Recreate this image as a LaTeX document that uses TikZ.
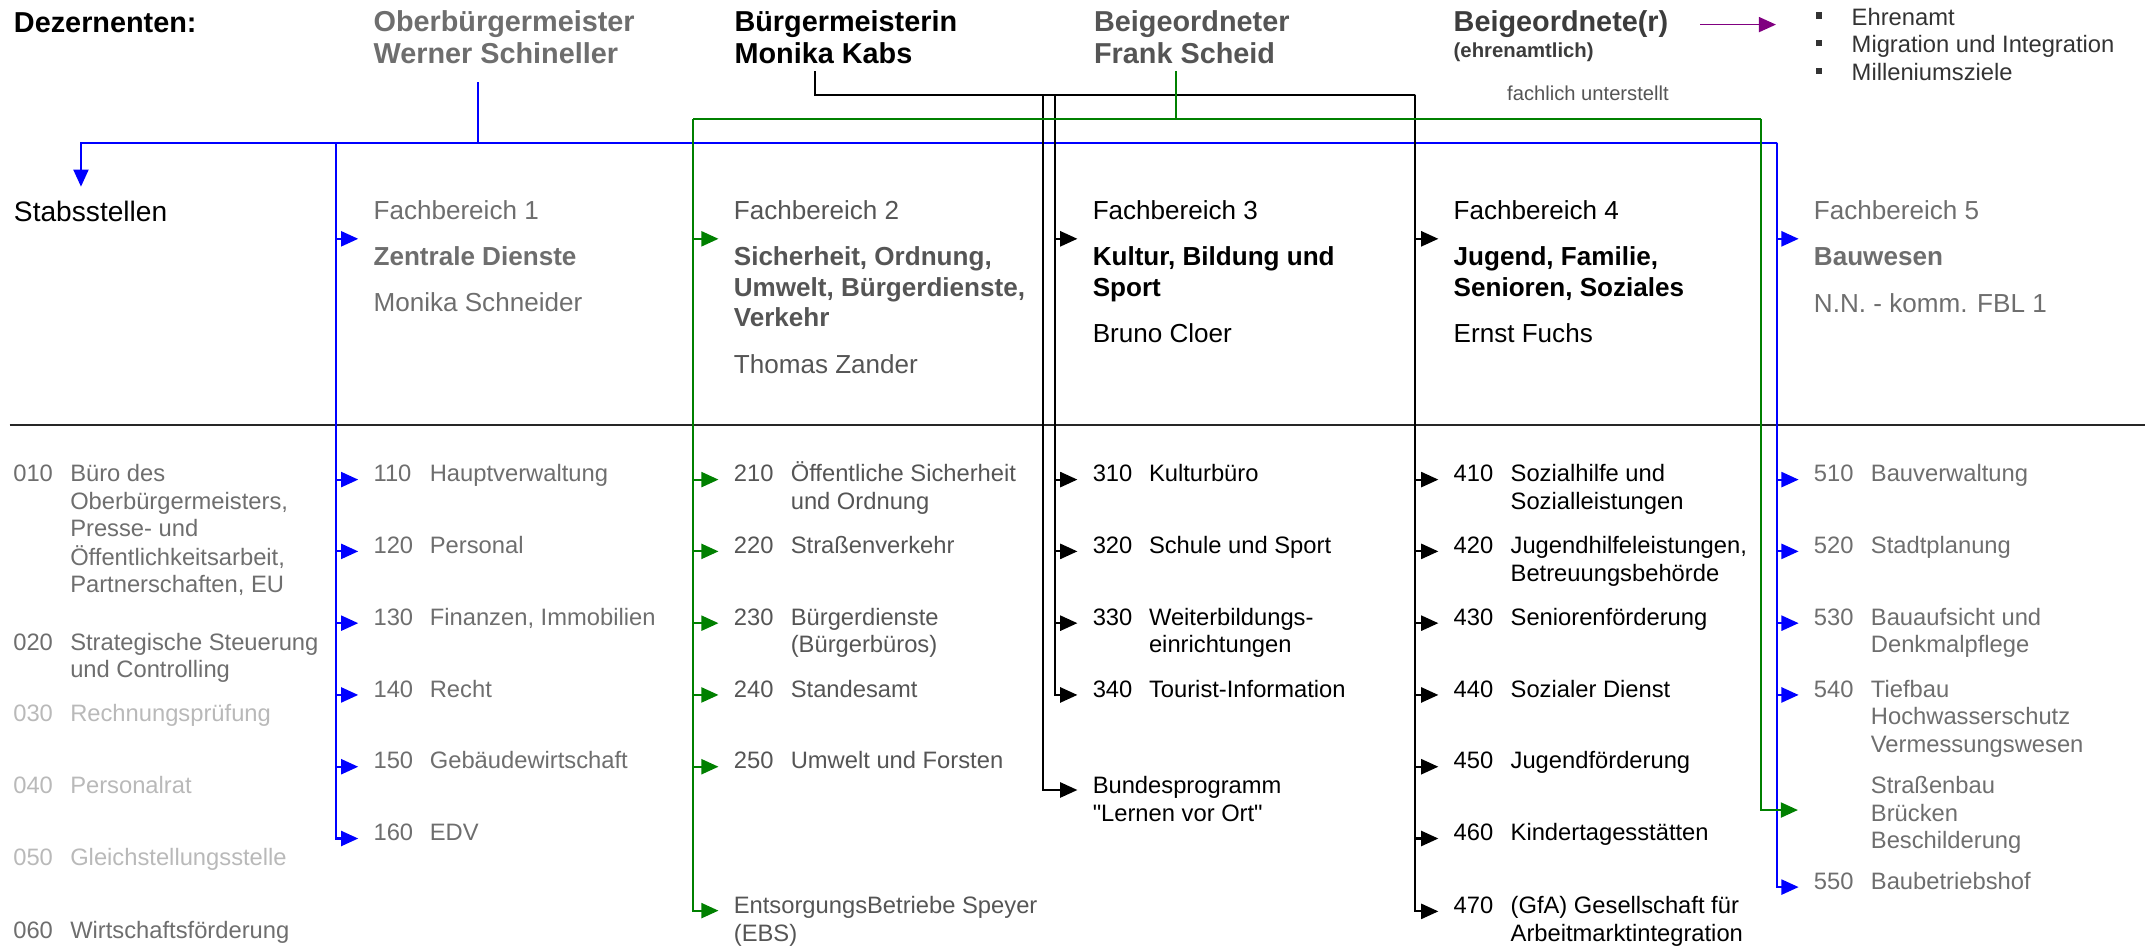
\documentclass[tikz,border=0pt]{standalone}
\usepackage{fontspec}
\setmainfont{Liberation Sans}[Ligatures = TeXOff]
\usetikzlibrary{arrows.meta}

\definecolor{grauA}{RGB}{110,110,110}
\definecolor{grauB}{RGB}{85,85,85}
\definecolor{grauC}{RGB}{185,185,185}
\definecolor{grauD}{RGB}{60,60,60}
\definecolor{gruen}{RGB}{0,128,0}
\definecolor{lila}{RGB}{128,0,128}

\newcommand{\kasten}{\makebox[26pt][l]{\raisebox{4.8pt}{\rule{4.5pt}{4.5pt}}}}
\newcommand{\zeilen}[1]{\begin{tabular}[t]{@{}l@{}}#1\end{tabular}}

\tikzset{
	kopf/.style = {anchor = base west, inner sep = 0pt, font = \fontsize{21}{23.1}\selectfont\bfseries},
	fb/.style = {anchor = base west, inner sep = 0pt, font = \fontsize{19}{22}\selectfont},
	eintrag/.style = {anchor = base west, inner sep = 0pt, font = \fontsize{17.3}{20.1}\selectfont},
	linie/.style = {line width = 1.5pt},
	pfeil/.style = {line width = 1.5pt, -{Triangle[length = 12.5pt, width = 11pt]}}
}

\begin{document}
\begin{tikzpicture}[x = 1pt, y = -1pt]
	\useasboundingbox (0,0) rectangle (1568,689);

	\node[kopf] (dez) at (10,23.5) {Dezernenten:};
	\node[kopf, text = grauA] (ob) at (272,23.3) {\zeilen{Oberbürgermeister\\Werner Schineller}};
	\node[kopf] (kb) at (535,23.3) {\zeilen{Bürgermeisterin\\Monika Kabs}};
	\node[kopf, text = grauB] (bg) at (797,23.3) {\zeilen{Beigeordneter\\Frank Scheid}};
	\node[kopf, text = grauD] (bge) at (1059,23.3) {Beigeordnete(r)};
	\node[kopf, text = grauD, font = \fontsize{14.8}{17}\selectfont\bfseries] (ehr) at (1059,41.7) {(ehrenamtlich)};
	\node[eintrag, text = black!80] (liste) at (1323,18.3) {\zeilen{\kasten Ehrenamt\\\kasten Migration und Integration\\\kasten Milleniumsziele}};
	\node[eintrag, text = grauB, font = \fontsize{14.7}{17}\selectfont] (fach) at (1098,73.3) {fachlich unterstellt};

	\node[kopf, font = \fontsize{20.5}{23}\selectfont] (stab) at (10,161.5) {Stabsstellen};
	\node[fb, text = grauA] (fb1) at (272,159.8) {\zeilen{Fachbereich 1\\[12pt]\textbf{Zentrale Dienste}\\[10.8pt]Monika Schneider}};
	\node[fb, text = grauB] (fb2) at (534.5,159.8) {\zeilen{Fachbereich 2\\[12pt]\textbf{Sicherheit, Ordnung,}\\\textbf{Umwelt, Bürgerdienste,}\\\textbf{Verkehr}\\[12pt]Thomas Zander}};
	\node[fb] (fb3) at (796,159.8) {\zeilen{Fachbereich 3\\[12pt]\textbf{Kultur, Bildung und}\\\textbf{Sport}\\[11.4pt]Bruno Cloer}};
	\node[fb] (fb4) at (1059,159.8) {\zeilen{Fachbereich 4\\[12pt]\textbf{Jugend, Familie,}\\\textbf{Senioren, Soziales}\\[11.8pt]Ernst Fuchs}};
	\node[fb, text = grauA] (fb5) at (1321.5,159.8) {\zeilen{Fachbereich 5\\[12pt]\textbf{Bauwesen}\\[12pt]N.N. - komm. FBL 1}};

	\coordinate (trennL) at (7,309.7);
	\coordinate (trennR) at (1563,309.7);
	\draw[line width = 2pt, black!85] (trennL) -- (trennR);

	\coordinate (obS) at (348.5,60);
	\coordinate (blauL) at (59,104);
	\coordinate (blau1) at (244.5,104);
	\coordinate (blau2) at (1294.5,104);
	\coordinate (stabTip) at (59,136);
	\coordinate (kbS) at (594,52);
	\coordinate (schwarz1) at (760,69);
	\coordinate (schwarz2) at (768.5,69);
	\coordinate (schwarz3) at (1031,69);
	\coordinate (bgS) at (857,52);
	\coordinate (gruen1) at (505,86.5);
	\coordinate (gruen2) at (1283,86.5);
	\coordinate (lilaTip) at (1294,0);

	\draw[pfeil, lila, line width = 1.2pt] ([xshift = 23pt]bge.east) -- (bge.east -| lilaTip);

	\foreach \nr/\yy/\fa/\txt in {010/351/grauA/{Büro des\\Oberbürgermeisters,\\Presse- und\\Öffentlichkeitsarbeit,\\Partnerschaften, EU}, 020/473.7/grauA/{Strategische Steuerung\\und Controlling}, 030/526/grauC/Rechnungsprüfung, 040/578.2/grauC/Personalrat, 050/630.4/grauC/Gleichstellungsstelle, 060/683.8/grauA/Wirtschaftsförderung}
	{
		\node[eintrag, text = \fa] (n\nr) at (9.5,\yy) {\nr};
		\node[eintrag, text = \fa] (t\nr) at (51,\yy) {\zeilen{\txt}};
	}

	\draw[linie, blue] (obS) -- (obS |- blauL);
	\draw[pfeil, blue] (blau2) -- (blauL) -- (stabTip);
	\draw[pfeil, blue] (blau1) |- ([xshift = -11pt, yshift = -14.2pt]fb1.base west);
	\foreach \nr/\yy/\txt in {110/351/Hauptverwaltung, 120/403.3/Personal, 130/455.6/{Finanzen, Immobilien}, 140/507.9/Recht, 150/560.2/Gebäudewirtschaft, 160/612.5/EDV}
	{
		\node[eintrag, text = grauA] (n\nr) at (272,\yy) {\nr};
		\node[eintrag, text = grauA] (t\nr) at (313,\yy) {\zeilen{\txt}};
		\draw[pfeil, blue] (blau1) |- ([xshift = -11pt, yshift = -4.4pt]n\nr.west);
	}
	\draw[pfeil, blue] (blau2) |- ([xshift = -11pt, yshift = -14.2pt]fb5.base west);
	\foreach \nr/\yy/\txt in {510/351/Bauverwaltung, 520/403.3/Stadtplanung, 530/455.6/{Bauaufsicht und\\Denkmalpflege}, 540/507.9/{Tiefbau\\Hochwasserschutz\\Vermessungswesen}, 550/647.9/Baubetriebshof}
	{
		\node[eintrag, text = grauA] (n\nr) at (1321.5,\yy) {\nr};
		\node[eintrag, text = grauA] (t\nr) at (1363,\yy) {\zeilen{\txt}};
		\draw[pfeil, blue] (blau2) |- ([xshift = -11pt, yshift = -4.4pt]n\nr.west);
	}

	\draw[linie] (kbS) |- (schwarz3);
	\draw[pfeil] (schwarz2) |- ([xshift = -11pt, yshift = -14.2pt]fb3.base west);
	\foreach \nr/\yy/\txt in {310/351/Kulturbüro, 320/403.3/Schule und Sport, 330/455.6/{Weiterbildungs-\\einrichtungen}, 340/507.9/Tourist-Information}
	{
		\node[eintrag] (n\nr) at (796,\yy) {\nr};
		\node[eintrag] (t\nr) at (837,\yy) {\zeilen{\txt}};
		\draw[pfeil] (schwarz2) |- ([xshift = -11pt, yshift = -4.4pt]n\nr.west);
	}
	\node[eintrag] (bp) at (796,578.2) {\zeilen{Bundesprogramm\\"Lernen vor Ort"}};
	\draw[pfeil] (schwarz1) |- ([xshift = -11pt, yshift = 2.6pt]bp.base west);
	\draw[pfeil] (schwarz3) |- ([xshift = -11pt, yshift = -14.2pt]fb4.base west);
	\foreach \nr/\yy/\txt in {410/351/{Sozialhilfe und\\Sozialleistungen}, 420/403.3/{Jugendhilfeleistungen,\\Betreuungsbehörde}, 430/455.6/Seniorenförderung, 440/507.9/Sozialer Dienst, 450/560.2/Jugendförderung, 460/612.5/Kindertagesstätten, 470/665.6/{(GfA) Gesellschaft für\\Arbeitmarktintegration}}
	{
		\node[eintrag] (n\nr) at (1059,\yy) {\nr};
		\node[eintrag] (t\nr) at (1100.5,\yy) {\zeilen{\txt}};
		\draw[pfeil] (schwarz3) |- ([xshift = -11pt, yshift = -4.4pt]n\nr.west);
	}

	\draw[linie, gruen] (bgS) -- (bgS |- gruen1);
	\draw[linie, gruen] (gruen1) -- (gruen2);
	\draw[pfeil, gruen] (gruen1) |- ([xshift = -11pt, yshift = -14.2pt]fb2.base west);
	\foreach \nr/\yy/\txt in {210/351/{Öffentliche Sicherheit\\und Ordnung}, 220/403.3/Straßenverkehr, 230/455.6/{Bürgerdienste\\(Bürgerbüros)}, 240/507.9/Standesamt, 250/560.2/Umwelt und Forsten}
	{
		\node[eintrag, text = grauB] (n\nr) at (534.5,\yy) {\nr};
		\node[eintrag, text = grauB] (t\nr) at (576,\yy) {\zeilen{\txt}};
		\draw[pfeil, gruen] (gruen1) |- ([xshift = -11pt, yshift = -4.4pt]n\nr.west);
	}
	\node[eintrag, text = grauB] (ebs) at (534.5,665.6) {\zeilen{EntsorgungsBetriebe Speyer\\(EBS)}};
	\draw[pfeil, gruen] (gruen1) |- ([xshift = -11pt, yshift = 2.1pt]ebs.base west);
	\node[eintrag, text = grauA] (sb) at (1363,578.2) {\zeilen{Straßenbau\\Brücken\\Beschilderung}};
	\draw[pfeil, gruen] (gruen2) |- ([xshift = -53pt, yshift = -12pt]sb.base west);
\end{tikzpicture}
\end{document}
